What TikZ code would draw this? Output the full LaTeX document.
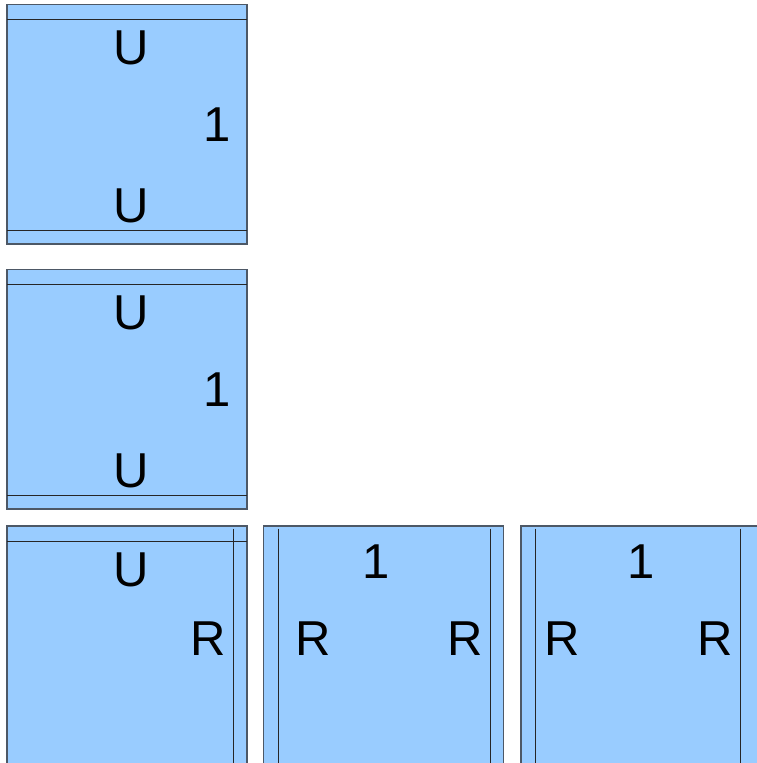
\documentclass[tikz,border=0pt]{standalone}
\usepackage{fontspec}
\setmainfont{Liberation Sans}
\definecolor{tilefill}{HTML}{99CCFF}
\definecolor{tileedge}{HTML}{4D5866}
\begin{document}
\begin{tikzpicture}[x=1pt,y=-1pt,
  tile/.style={fill=tilefill,draw=tileedge,line width=1.2pt},
  seam/.style={draw=black!85,line width=0.9pt},
  lbl/.style={inner sep=0pt,font=\fontsize{49}{50}\selectfont}]
\useasboundingbox (0,0) rectangle (757,763);
% tile 1
\path[tile] (7,4.5) rectangle (247,244);
\draw[seam] (7,19.7) -- (247,19.7);
\draw[seam] (7,230.7) -- (247,230.7);
\node[lbl] (t1u) at (131.5,48) {U};
\node[lbl] (t1one) at (217,124.5) {1};
\node[lbl] (t1d) at (131.5,206) {U};
% tile 2
\path[tile] (7,269.5) rectangle (247,509);
\draw[seam] (7,284.7) -- (247,284.7);
\draw[seam] (7,495.7) -- (247,495.7);
\node[lbl] (t2u) at (131.5,313) {U};
\node[lbl] (t2one) at (217,389.5) {1};
\node[lbl] (t2d) at (131.5,471) {U};
% tile 3
\path[tile] (7,526) rectangle (247,790);
\draw[seam] (7,541.3) -- (247,541.3);
\draw[seam] (233.3,528.7) -- (233.3,790);
\node[lbl] (t3u) at (131.5,569.5) {U};
\node[lbl] (t3r) at (207.7,638.5) {R};
% tile 4
\path[tile] (263.5,526) rectangle (503.5,790);
\draw[seam] (278.7,528.5) -- (278.7,790);
\draw[seam] (490.3,528.5) -- (490.3,790);
\node[lbl] (t4one) at (376,562) {1};
\node[lbl] (t4l) at (313.3,638.5) {R};
\node[lbl] (t4r) at (465,638.5) {R};
% tile 5
\path[tile] (521,526) rectangle (761,790);
\draw[seam] (535.7,528.5) -- (535.7,790);
\draw[seam] (740,528.5) -- (740,790);
\node[lbl] (t5one) at (641,562) {1};
\node[lbl] (t5l) at (562.5,638.5) {R};
\node[lbl] (t5r) at (715,638.5) {R};
\end{tikzpicture}
\end{document}
